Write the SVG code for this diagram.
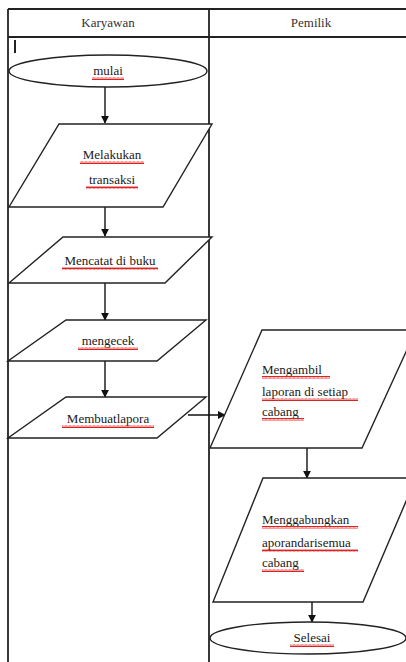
<svg xmlns="http://www.w3.org/2000/svg" width="406" height="662" viewBox="0 0 406 662">
<style>
.frame{fill:none;stroke:#222;stroke-width:1.8}
.shape{fill:#fff;stroke:#222;stroke-width:1.4}
.conn{fill:none;stroke:#111;stroke-width:1.4}
.t{font-family:"Liberation Serif","Times New Roman",serif;font-size:13px;fill:#1a1a1a}
.h{font-family:"Liberation Serif","Times New Roman",serif;font-size:13px;fill:#333}
.sq{fill:url(#wave)}
</style>
<defs>
<marker id="arr" viewBox="0 0 10 10" refX="9" refY="5" markerWidth="8" markerHeight="8" orient="auto" markerUnits="userSpaceOnUse">
<path d="M0,0 L10,5 L0,10 z" fill="#111"/>
</marker>
<pattern id="wave" x="0" y="0" width="4" height="3" patternUnits="userSpaceOnUse">
<path d="M0,2.5 L1,0.5 L2,2.5 L3,0.5 L4,2.5" fill="none" stroke="#d22" stroke-width="1"/>
</pattern>
</defs>
<rect x="0" y="0" width="406" height="662" fill="#fff"/>
<g id="lanes">
<line class="frame" x1="8" y1="9" x2="406" y2="9"/>
<line class="frame" x1="8" y1="37" x2="406" y2="37"/>
<line class="frame" x1="8" y1="9" x2="8" y2="662"/>
<line class="frame" x1="209" y1="9" x2="209" y2="662"/>
<text class="h" x="108" y="27" text-anchor="middle">Karyawan</text>
<text class="h" x="311" y="27" text-anchor="middle">Pemilik</text>
<line x1="15" y1="40" x2="15" y2="53" stroke="#222" stroke-width="2"/>
</g>
<g id="connectors">
<line class="conn" x1="105" y1="87" x2="105" y2="123" marker-end="url(#arr)"/>
<line class="conn" x1="105" y1="207" x2="105" y2="236" marker-end="url(#arr)"/>
<line class="conn" x1="105" y1="283" x2="105" y2="320" marker-end="url(#arr)"/>
<line class="conn" x1="105" y1="361" x2="105" y2="397" marker-end="url(#arr)"/>
<line class="conn" x1="188" y1="415" x2="225" y2="415" marker-end="url(#arr)"/>
<line class="conn" x1="307" y1="448" x2="307" y2="478" marker-end="url(#arr)"/>
<line class="conn" x1="312" y1="602" x2="312" y2="622" marker-end="url(#arr)"/>
</g>
<g id="mulai">
<ellipse class="shape" cx="108" cy="71" rx="99" ry="16"/>
<text class="t" x="108" y="75" text-anchor="middle">mulai</text>
<rect class="sq" x="92" y="77" width="32" height="3"/>
</g>
<g id="melakukan">
<polygon class="shape" points="59,124 212,124 163,207 9,207"/>
<text class="t" x="112" y="159" text-anchor="middle">Melakukan</text>
<rect class="sq" x="80" y="161" width="64" height="3"/>
<text class="t" x="112" y="184" text-anchor="middle">transaksi</text>
<rect class="sq" x="86" y="186" width="52" height="3"/>
</g>
<g id="mencatat">
<polygon class="shape" points="63,237 212,237 165,283 9,283"/>
<text class="t" x="110" y="265" text-anchor="middle">Mencatat di buku</text>
<rect class="sq" x="62" y="267" width="96" height="3"/>
</g>
<g id="mengecek">
<polygon class="shape" points="66,320 206,320 157,361 8,361"/>
<text class="t" x="108" y="345" text-anchor="middle">mengecek</text>
<rect class="sq" x="78" y="347" width="60" height="3"/>
</g>
<g id="membuat">
<polygon class="shape" points="66,397 206,397 157,438 8,438"/>
<text class="t" x="108" y="423" text-anchor="middle">Membuatlapora</text>
<rect class="sq" x="62" y="425" width="92" height="3"/>
</g>
<g id="mengambil">
<polygon class="shape" points="262,330 416,330 362,448 210,448"/>
<text class="t" x="262" y="374">Mengambil</text>
<rect class="sq" x="262" y="376" width="68" height="3"/>
<text class="t" x="262" y="396">laporan di setiap</text>
<rect class="sq" x="262" y="398" width="96" height="3"/>
<text class="t" x="262" y="416">cabang</text>
<rect class="sq" x="262" y="418" width="42" height="3"/>
</g>
<g id="menggabungkan">
<polygon class="shape" points="263,478 416,478 363,602 213,602"/>
<text class="t" x="262" y="524">Menggabungkan</text>
<rect class="sq" x="262" y="526" width="96" height="3"/>
<text class="t" x="262" y="547">aporandarisemua</text>
<rect class="sq" x="262" y="549" width="96" height="3"/>
<text class="t" x="262" y="567">cabang</text>
<rect class="sq" x="262" y="569" width="42" height="3"/>
</g>
<g id="selesai">
<ellipse class="shape" cx="308" cy="638" rx="98" ry="16"/>
<text class="t" x="312" y="642" text-anchor="middle">Selesai</text>
<rect class="sq" x="290" y="644" width="44" height="3"/>
</g>
</svg>
